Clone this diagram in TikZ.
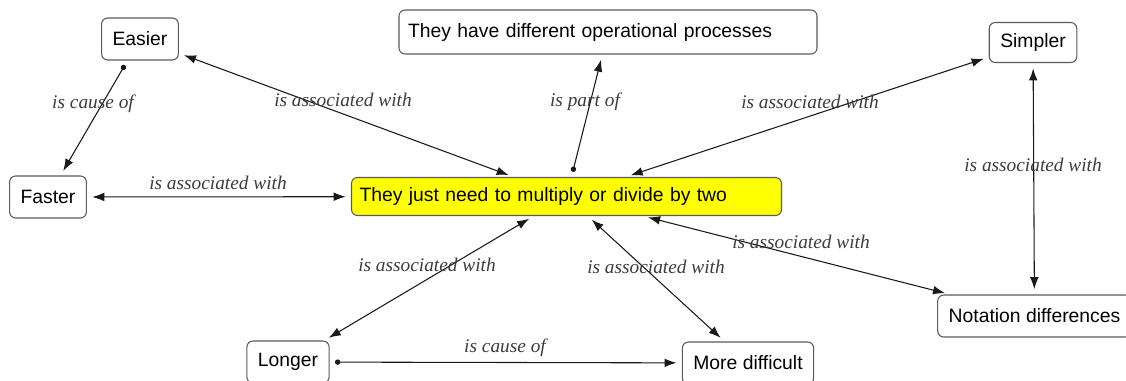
\documentclass[tikz,border=0pt]{standalone}
\usepackage{fontspec}
\setmainfont{Liberation Sans}
\newfontfamily\linkfont{Liberation Serif}
\usepackage{xcolor}
\usetikzlibrary{arrows.meta}
\definecolor{boxgray}{HTML}{5A5A5A}
\definecolor{lblgray}{HTML}{3C3C3C}
\definecolor{mainyellow}{HTML}{FFFF00}

\begin{document}
\begin{tikzpicture}
  [
    x=0.75pt, y=-0.75pt,
    concept/.style={
      draw=boxgray,
      fill=white,
      rounded corners=4.5pt,
      line width=0.8pt,
      inner xsep=8.25pt,
      minimum height=31.5pt,
      font=\fontsize{14.5pt}{17pt}\selectfont
    },
    wide/.style={concept, text width=#1, align=left},
    lbl/.style={text=lblgray, inner sep=0pt,
      font=\linkfont\itshape\fontsize{14.5pt}{17pt}\selectfont},
    link/.style={draw=black!90, line width=0.8pt, shorten >=4pt, shorten <=4pt},
    both/.style={link, {Latex[length=9pt,width=6.5pt]}-{Latex[length=9pt,width=6.5pt]}},
    cause/.style={link, {Circle[length=4pt]}-{Latex[length=9pt,width=6.5pt]}}
  ]
  \useasboundingbox (0,0) rectangle (1126,380);

  \node (main)   at (566.5,196.5) [wide=310.5pt, fill=mainyellow, inner xsep=6pt, minimum height=28.5pt]
                                 {They just need to multiply or divide by two};
  \node (ops)    at (608,32)     [wide=300pt, inner xsep=6.75pt, minimum height=33pt]
                                 {They have different operational processes};
  \node (easier) at (140,39)     [concept] {Easier};
  \node (faster) at (48,197)     [concept] {Faster};
  \node (simpl)  at (1033,42.5)  [concept, minimum height=30pt] {Simpler};
  \node (notat)  at (1034.5,316) [concept] {Notation differences};
  \node (longer) at (288,362)    [concept] {Longer};
  \node (more)   at (748,363)    [concept] {More difficult};

  \draw [cause] (easier) -- (faster);
  \draw [both]  (faster) -- (main);
  \draw [both]  (easier) -- (main);
  \draw [cause] (main)   -- (ops);
  \draw [both]  (main)   -- (simpl);
  \draw [both]  (simpl)  -- (notat);
  \draw [both]  (main)   -- (notat);
  \draw [both]  (main)   -- (longer);
  \draw [both]  (main)   -- (more);
  \draw [cause] (longer) -- (more);

  \node (l1)  at (93,104)   [lbl] {is cause of};
  \node (l2)  at (218,183)  [lbl] {is associated with};
  \node (l3)  at (343,100)  [lbl] {is associated with};
  \node (l4)  at (585,102)  [lbl] {is part of};
  \node (l5)  at (810,102)  [lbl] {is associated with};
  \node (l6)  at (1033,165) [lbl] {is associated with};
  \node (l7)  at (801,242)  [lbl] {is associated with};
  \node (l8)  at (427,265)  [lbl] {is associated with};
  \node (l9)  at (656,267)  [lbl] {is associated with};
  \node (l10) at (505,348)  [lbl] {is cause of};
\end{tikzpicture}
\end{document}
